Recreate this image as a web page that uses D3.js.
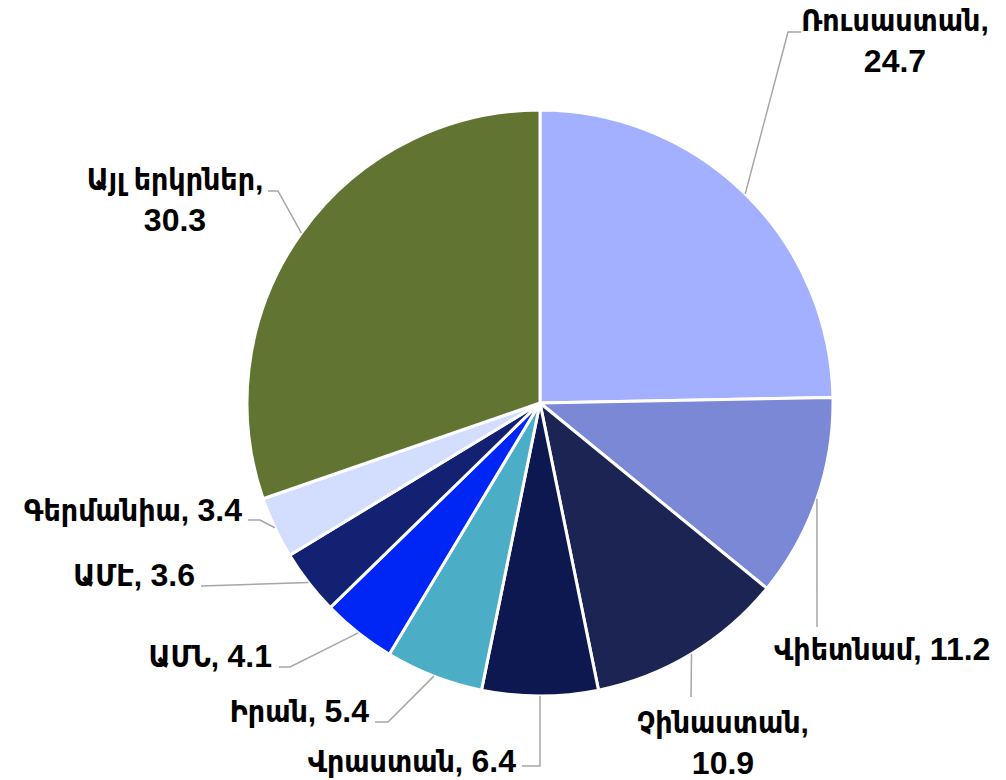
<!DOCTYPE html>
<html>
<head>
<meta charset="utf-8">
<script src="https://cdn.jsdelivr.net/npm/d3@7"></script>
<style>
  html, body { margin: 0; padding: 0; background: #fff; }
  svg { display: block; }
  text { font-family: "Liberation Sans", "DejaVu Sans Condensed", "DejaVu Sans", sans-serif; font-weight: bold; fill: #000; }
  .num { font-size: 32px; }
</style>
</head>
<body>
<svg id="chart" width="1006" height="780"></svg>
<script>
// ---- data ----
const categories = ["Ռուսաստան", "Վիետնամ", "Չինաստան", "Վրաստան", "Իրան", "ԱՄՆ", "ԱՄԷ", "Գերմանիա", "Այլ երկրներ"];
const values = [24.7, 11.2, 10.9, 6.4, 5.4, 4.1, 3.6, 3.4, 30.3];
const colors = ["#A3B0FF", "#7B88D5", "#1B2452", "#0E1850", "#4BADC6", "#0026F5", "#132172", "#D3DEFE", "#617431"];

// ---- layout (label placement) ----
const labelWrap = [true, false, true, false, false, false, false, false, true];
const labelAnchor = ["middle", "start", "middle", "end", "end", "end", "end", "end", "middle"];
const labelPos = [[895, 31], [774, 660], [723, 733], [516, 772], [369, 722], [272, 667], [195, 586], [242, 521], [175, 190]];
const leaderBends = [
  [[788, 32], [801, 32]],
  [[817, 627]],
  [[691, 697]],
  [[540, 766], [522, 766]],
  [[388, 722], [375, 722]],
  [[290, 667], [279, 667]],
  [[201, 586]],
  [[260, 520], [248, 520]],
  [[278, 191], [268, 191]]
];

const cx = 540, cy = 403, R = 293;
const svg = d3.select("#chart");
const g = svg.append("g").attr("transform", `translate(${cx},${cy})`);

const data = categories.map((c, i) => ({ name: c, value: values[i], color: colors[i], i }));
const pie = d3.pie().value(d => d.value).sort(null);
const arcs = pie(data);
const arc = d3.arc().innerRadius(0).outerRadius(R);
const edge = d3.arc().innerRadius(R).outerRadius(R);

g.selectAll("path.slice").data(arcs).join("path")
  .attr("class", "slice")
  .attr("d", arc)
  .attr("fill", d => d.data.color)
  .attr("stroke", "#fff")
  .attr("stroke-width", 3)
  .attr("stroke-linejoin", "round");

// leader lines
const line = d3.line();
svg.selectAll("path.leader").data(arcs).join("path")
  .attr("class", "leader")
  .attr("d", d => {
    const c = edge.centroid(d);
    const pts = [[cx + c[0], cy + c[1]]].concat(leaderBends[d.data.i]);
    return line(pts);
  })
  .attr("fill", "none")
  .attr("stroke", "#A6A6A6")
  .attr("stroke-width", 1.5);

// labels
const fmt = v => v.toFixed(1);
svg.selectAll("text.lbl").data(arcs).join("text")
  .attr("class", "lbl")
  .attr("x", d => labelPos[d.data.i][0])
  .attr("y", d => labelPos[d.data.i][1])
  .attr("text-anchor", d => labelAnchor[d.data.i])
  .style("font-size", "30px")
  .each(function(d) {
    const t = d3.select(this);
    const i = d.data.i;
    if (labelWrap[i]) {
      t.append("tspan").attr("x", labelPos[i][0]).text(d.data.name + ",");
      t.append("tspan").attr("class", "num").attr("x", labelPos[i][0]).attr("dy", 41).text(fmt(d.data.value));
    } else {
      t.append("tspan").text(d.data.name + ", ");
      t.append("tspan").attr("class", "num").text(fmt(d.data.value));
    }
  });
</script>
</body>
</html>
